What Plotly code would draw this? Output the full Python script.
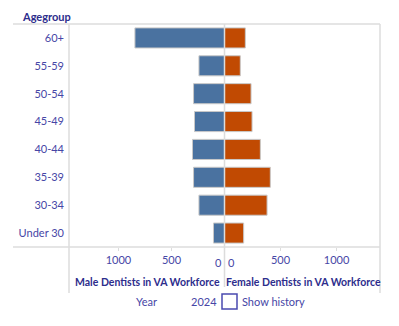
import plotly.graph_objects as go

agegroups = ["60+", "55-59", "50-54", "45-49", "40-44", "35-39", "30-34", "Under 30"]
male = [845, 241, 292, 283, 302, 292, 241, 104]
female = [186, 141, 237, 246, 320, 409, 380, 171]
tick_vals = [500, 1000]

MALE_C = "#4a72a0"
FEMALE_C = "#c14a02"
TXT = "#4646a6"
TITLE = "#2d2d8c"
LINE = "#dcdcdc"
FONT = "Lato"

fig = go.Figure()
fig.add_trace(go.Bar(y=agegroups, x=male, orientation="h", xaxis="x", yaxis="y",
                     marker=dict(color=MALE_C, line=dict(color="#c8c8c8", width=1)),
                     name="Male", showlegend=False))
fig.add_trace(go.Bar(y=agegroups, x=female, orientation="h", xaxis="x2", yaxis="y",
                     marker=dict(color=FEMALE_C, line=dict(color="#c8c8c8", width=1)),
                     name="Female", showlegend=False))

W, H = 399, 326
L, R, T, B = 69, 19, 24, 79
pw = W - L - R
ph = H - T - B

def px(xp):
    return (xp - L) / pw

def py(yp):
    return 1 - (yp - T) / ph

split = px(224.5)

fig.update_layout(
    width=W, height=H,
    margin=dict(l=L, r=R, t=T, b=B),
    paper_bgcolor="white", plot_bgcolor="white",
    font=dict(family=FONT, size=11, color=TXT),
    bargap=0.28,
    xaxis=dict(domain=[0, split], range=[1467, 0], tickvals=tick_vals,
               showgrid=False, zeroline=False, showline=False,
               ticks="outside", ticklen=3, tickcolor=LINE,
               tickfont=dict(size=11, color=TXT), anchor="y"),
    xaxis2=dict(domain=[split, 1], range=[0, 1388], tickvals=tick_vals,
                showgrid=False, zeroline=False, showline=False,
                ticks="outside", ticklen=3, tickcolor=LINE,
                tickfont=dict(size=11, color=TXT), anchor="y"),
    yaxis=dict(categoryorder="array", categoryarray=agegroups[::-1],
               showgrid=False, zeroline=False, showline=False,
               ticks="", ticklabelstandoff=4,
               tickfont=dict(size=11, color=TXT)),
)

# frame lines (paper coordinates)
lines = [
    (px(13), py(24), 1.0, py(24)),
    (px(13), py(247), 1.0, py(247)),
    (0, py(24), 0, py(293)),
    (1.0, py(24), 1.0, py(293)),
    (split, py(24), split, py(287)),
]
for x0, y0, x1, y1 in lines:
    fig.add_shape(type="line", xref="paper", yref="paper", x0=x0, y0=y0, x1=x1, y1=y1,
                  line=dict(color=LINE, width=1.5), layer="above")

def note(x, y, text, xanchor="center", size=11, color=TXT, xref="paper", xshift=0):
    fig.add_annotation(x=x, y=y, xref=xref, yref="paper", text=text, showarrow=False,
                       xanchor=xanchor, yanchor="middle", xshift=xshift,
                       font=dict(size=size, color=color))

# zero labels
note(0, py(262), "0", xanchor="right", xref="x", xshift=-1)
note(0, py(262), "0", xanchor="left", xref="x2", xshift=1)

# titles
note(px(20), py(17), "<b>Agegroup</b>", xanchor="left", color=TITLE)
note(px(147), py(282), "<b>Male Dentists in VA Workforce</b>", size=10.5, color=TITLE)
note(px(303), py(282), "<b>Female Dentists in VA Workforce</b>", size=10.5, color=TITLE)

# year control
note(px(146), py(301), "Year")
note(px(219), py(301), "2024", xanchor="right")
fig.add_shape(type="rect", xref="paper", yref="paper", x0=px(222), x1=px(237),
              y0=py(294), y1=py(309), line=dict(color="#4a4ab0", width=1.5),
              fillcolor="white")
note(px(240), py(301), "Show history", xanchor="left")

fig.write_html("out.html")
